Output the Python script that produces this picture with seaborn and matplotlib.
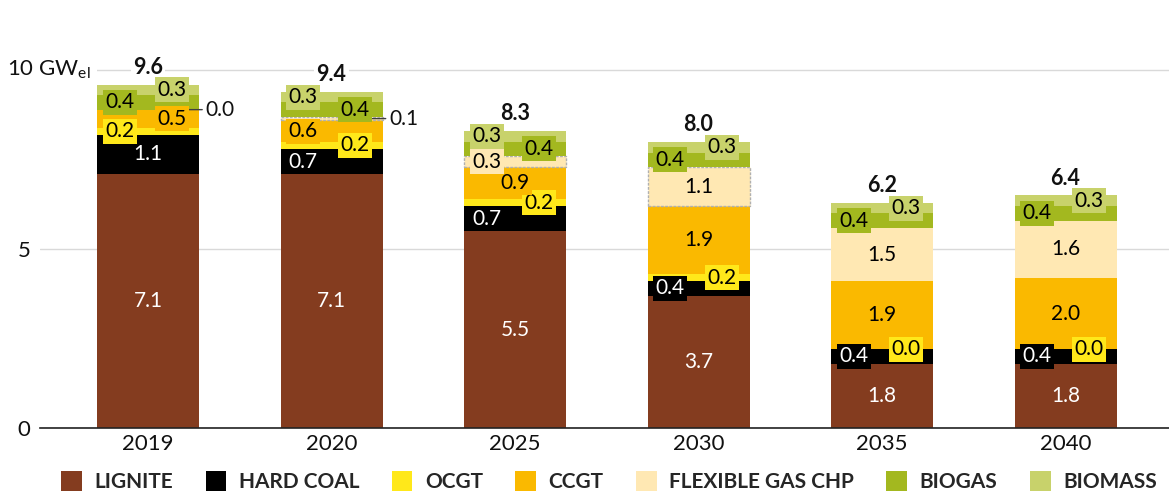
import numpy as np
import pandas as pd
import matplotlib.pyplot as plt
import seaborn as sns
from matplotlib.patches import Patch

years = ["2019", "2020", "2025", "2030", "2035", "2040"]
techs = ["LIGNITE", "HARD COAL", "OCGT", "CCGT", "FLEXIBLE GAS CHP", "BIOGAS", "BIOMASS"]
lignite = [7.1, 7.1, 5.5, 3.7, 1.8, 1.8]
hard_coal = [1.1, 0.7, 0.7, 0.4, 0.4, 0.4]
ocgt = [0.2, 0.2, 0.2, 0.2, 0.0, 0.0]
ccgt = [0.5, 0.6, 0.9, 1.9, 1.9, 2.0]
flex_chp = [0.0, 0.1, 0.3, 1.1, 1.5, 1.6]
biogas = [0.4, 0.4, 0.4, 0.4, 0.4, 0.4]
biomass = [0.3, 0.3, 0.3, 0.3, 0.3, 0.3]
totals = [9.6, 9.4, 8.3, 8.0, 6.2, 6.4]

series = [lignite, hard_coal, ocgt, ccgt, flex_chp, biogas, biomass]
colors = ["#843c1f", "#000000", "#ffe81a", "#fab900", "#ffe8b3", "#a3b81f", "#c8d26b"]
text_colors = ["white", "white", "black", "black", "black", "black", "black"]

# where the value label sits: c centre, l left, r right, o outside with a leader line
label_pos = [
    ["c", "c", "c", "c", "c", "c"],
    ["c", "l", "l", "l", "l", "l"],
    ["l", "r", "r", "r", "r", "r"],
    ["r", "l", "c", "c", "c", "c"],
    ["o", "o", "l", "c", "c", "c"],
    ["l", "r", "r", "l", "l", "l"],
    ["r", "l", "l", "r", "r", "r"],
]
dashed_chp = [False, True, True, True, False, False]
offsets = {"c": 0.0, "l": -0.155, "r": 0.13}

sns.set_theme(style="white")
plt.rcParams["font.family"] = ["Lato", "DejaVu Sans"]
plt.rcParams["mathtext.fontset"] = "custom"
plt.rcParams["mathtext.rm"] = "Lato"
plt.rcParams["mathtext.it"] = "Lato"

fig = plt.figure(figsize=(11.69, 4.94), dpi=100)
ax = fig.add_axes([40 / 1169, 1 - 428 / 494, 1129 / 1169, 406 / 494])

bar_w = 0.556
bottom = np.zeros(len(years))
bases = []
for vals, col in zip(series, colors):
    bases.append(bottom.copy())
    sns.barplot(x=years, y=vals, color=col, saturation=1, width=bar_w,
                bottom=bottom, errorbar=None, linewidth=0, ax=ax)
    bottom = bottom + np.array(vals)

# dotted outline on the flexible gas CHP segments
chp_bars = ax.containers[4]
for p, flag in zip(chp_bars.patches, dashed_chp):
    if flag:
        p.set_edgecolor("#b0b0b0")
        p.set_linewidth(1.0)
        p.set_linestyle((0, (2, 1)))

for j, (vals, col, tc) in enumerate(zip(series, colors, text_colors)):
    for i in range(len(years)):
        v = vals[i]
        mid = bases[j][i] + v / 2
        pos = label_pos[j][i]
        if pos == "o":
            ax.annotate(f"{v:.1f}", xy=(i + bar_w / 2 - 0.06, mid),
                        xytext=(i + bar_w / 2 + 0.035, mid), ha="left", va="center",
                        fontsize=15, color="#111111",
                        arrowprops=dict(arrowstyle="-", color="#404040", lw=1,
                                        shrinkA=0, shrinkB=0))
        else:
            ax.text(i + offsets[pos], mid, f"{v:.1f}", ha="center", va="center",
                    color=tc, fontsize=15, zorder=5,
                    bbox=dict(boxstyle="square,pad=0.12", fc=col, ec="none"))

for i, t in enumerate(totals):
    ax.annotate(f"{t:.1f}", xy=(i, bottom[i]), xytext=(0, 5), textcoords="offset points",
                ha="center", va="bottom", fontsize=15.5, fontweight="bold", color="#111111",
                bbox=dict(boxstyle="square,pad=0.1", fc="white", ec="none"))

ax.set_xlim(-0.589, 5.564)
ax.set_ylim(0, 11.35)
ax.set_yticks([0, 5, 10])
ax.set_yticklabels(["0", "5", ""])
ax.text(-0.029, 10, "10 GW$_{\\mathregular{el}}$", transform=ax.get_yaxis_transform(),
        ha="left", va="center", fontsize=16, color="#111111",
        bbox=dict(boxstyle="square,pad=0.25", fc="white", ec="none"))
ax.yaxis.grid(True, color="#d9d9d9", lw=1)
ax.set_axisbelow(True)
ax.tick_params(axis="both", length=0, labelsize=16, colors="#111111")
ax.tick_params(axis="y", pad=7)
ax.tick_params(axis="x", pad=4)
ax.set_xlabel("")
ax.set_ylabel("")
for s in ["left", "right", "top"]:
    ax.spines[s].set_visible(False)
ax.spines["bottom"].set_color("#222222")
ax.spines["bottom"].set_linewidth(1.2)

handles = [Patch(facecolor=c, edgecolor="none") for c in colors]
fig.legend(handles, techs, loc="center", bbox_to_anchor=(0.521, 0.026), ncol=7,
           frameon=False, prop={"weight": "bold", "size": 15},
           handlelength=1.0, handleheight=1.1, handletextpad=0.6, columnspacing=1.55)

fig.savefig("out.png", dpi=100)
